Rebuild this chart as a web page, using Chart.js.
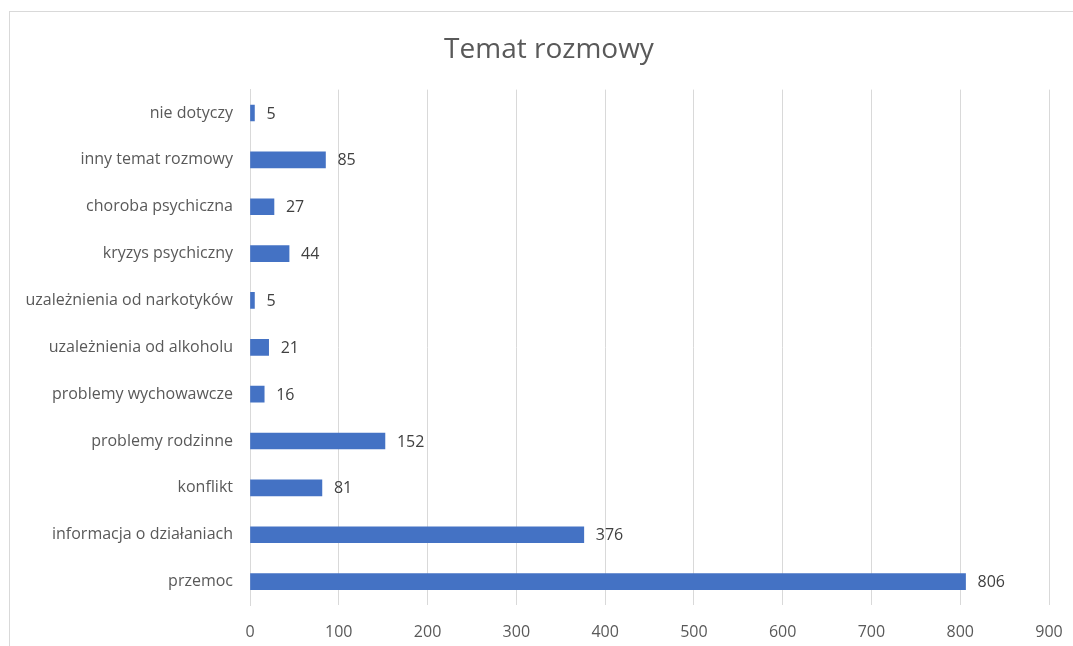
<!DOCTYPE html>
<html>
<head>
<meta charset="utf-8">
<script src="https://cdn.jsdelivr.net/npm/chart.js@4/dist/chart.umd.min.js"></script>
<style>
    html, body { margin: 0; padding: 0; background: #fff; }
    #frame {
        position: absolute;
        left: 9px;
        top: 11px;
        width: 1080px;
        height: 660px;
        border: 1px solid #d9d9d9;
        box-sizing: border-box;
    }
    canvas { position: absolute; left: 0; top: 0; }
</style>
</head>
<body>
<div id="frame"></div>
<canvas id="chart" width="1073" height="646"></canvas>
<script>
// Chart data (top to bottom as shown)
const categories = [
    'nie dotyczy',
    'inny temat rozmowy',
    'choroba psychiczna',
    'kryzys psychiczny',
    'uzależnienia od narkotyków',
    'uzależnienia od alkoholu',
    'problemy wychowawcze',
    'problemy rodzinne',
    'konflikt',
    'informacja o działaniach',
    'przemoc'
];
const counts = [5, 85, 27, 44, 5, 21, 16, 152, 81, 376, 806];
const axisMax = 900;
const axisStep = 100;

const FONT = '"Open Sans", sans-serif';
const TEXT_COLOR = '#595959';

// Draws the value next to the end of each bar
const valueLabels = {
    id: 'valueLabels',
    afterDatasetsDraw(chart) {
        const ctx = chart.ctx;
        const meta = chart.getDatasetMeta(0);
        ctx.save();
        ctx.font = '16px ' + FONT;
        ctx.fillStyle = '#404040';
        ctx.textBaseline = 'middle';
        ctx.textAlign = 'left';
        meta.data.forEach((bar, i) => {
            ctx.fillText(String(counts[i]), bar.x + 12, bar.y + 1);
        });
        ctx.restore();
    }
};

// The left padding pushes the title to where it sits in the original;
// widen the y axis box again so the long category labels are not clipped.
const widenLabelArea = {
    id: 'widenLabelArea',
    afterLayout(chart) {
        chart.scales.y.left = 0;
    }
};

const ctx = document.getElementById('chart').getContext('2d');
new Chart(ctx, {
    type: 'bar',
    data: {
        labels: categories,
        datasets: [{
            data: counts,
            backgroundColor: '#4472C4',
            borderWidth: 0,
            barThickness: 16
        }]
    },
    options: {
        indexAxis: 'y',
        responsive: false,
        animation: false,
        layout: { padding: { left: 49, right: 24, top: 0, bottom: 0 } },
        plugins: {
            legend: { display: false },
            tooltip: { enabled: false },
            title: {
                display: true,
                text: 'Temat rozmowy',
                color: TEXT_COLOR,
                font: { family: FONT, size: 28, weight: 'normal' },
                padding: { top: 33, bottom: 23 }
            }
        },
        scales: {
            x: {
                min: 0,
                max: axisMax,
                ticks: {
                    stepSize: axisStep,
                    color: TEXT_COLOR,
                    // tall line height moves the labels down without the
                    // tick padding eating into the right-hand margin
                    font: { family: FONT, size: 16, lineHeight: 3.1 },
                    padding: 3
                },
                grid: { color: '#d9d9d9', drawTicks: false },
                border: { display: false },
                afterFit(scale) { scale.height = 41; }
            },
            y: {
                ticks: {
                    color: TEXT_COLOR,
                    font: { family: FONT, size: 16 },
                    padding: 17
                },
                grid: { display: false, drawTicks: false },
                border: { display: true, color: '#d9d9d9' },
                afterFit(scale) { scale.width = 201; }
            }
        }
    },
    plugins: [valueLabels, widenLabelArea]
});
</script>
</body>
</html>
